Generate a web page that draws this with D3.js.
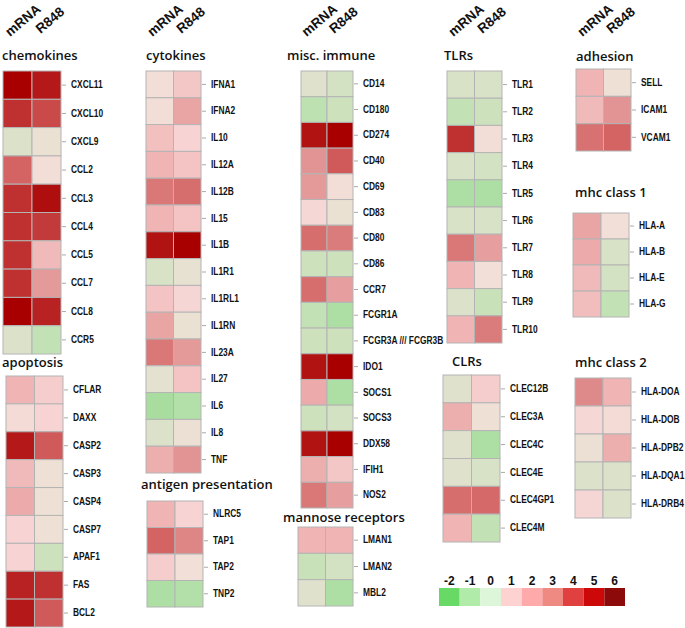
<!DOCTYPE html>
<html><head><meta charset="utf-8">
<script src="https://cdn.jsdelivr.net/npm/d3@7/dist/d3.min.js"></script>
<style>
body{margin:0;background:#fff;}
.gene{font-family:"Liberation Sans",Arial,sans-serif;font-weight:bold;font-size:10px;fill:#111;}
.title{font-family:"Open Sans",sans-serif;font-weight:600;font-size:13px;fill:#111;}
.hdr{font-family:"Liberation Sans",Arial,sans-serif;font-weight:bold;font-size:13.5px;fill:#111;}
.leg{font-family:"Liberation Sans",Arial,sans-serif;font-weight:bold;font-size:12px;fill:#111;}
</style></head>
<body>
<svg id="c" width="685" height="628"></svg>
<script>
const conditions = ["mRNA","R848"];

const chemokineGenes = ["CXCL11","CXCL10","CXCL9","CCL2","CCL3","CCL4","CCL5","CCL7","CCL8","CCR5"];
const chemokineMRNA  = [6, 5, -0.2, 4, 5, 5, 5, 5, 6, -0.2];
const chemokineR848  = [5.5, 4.5, 0.2, 0.6, 5.7, 4.8, 1.8, 2.8, 5.3, -0.7];

const apoptosisGenes = ["CFLAR","DAXX","CASP2","CASP3","CASP4","CASP7","APAF1","FAS","BCL2"];
const apoptosisMRNA  = [2, 0.7, 5.5, 1.8, 2.3, 1, 1, 5.3, 5.5];
const apoptosisR848  = [1.2, 1, 4.2, 0.4, 0.4, 0.4, -0.5, 5, 4.2];

const cytokineGenes = ["IFNA1","IFNA2","IL10","IL12A","IL12B","IL15","IL1B","IL1R1","IL1RL1","IL1RN","IL23A","IL27","IL6","IL8","TNF"];
const cytokineMRNA  = [0.6, 0.6, 1.6, 2, 3.6, 2, 5.6, -0.3, 1.5, 2.5, 3.6, 0, -1.2, -0.2, 2.2];
const cytokineR848  = [1.4, 2.5, 1, 1.5, 3.8, 1.5, 6, 0.1, 0.9, 0.2, 2.8, 1.5, -1.0, 0.3, 3];

const antigenGenes = ["NLRC5","TAP1","TAP2","TNP2"];
const antigenMRNA  = [2, 4, 1.2, -1.1];
const antigenR848  = [1, 3.3, 0.5, -1.0];

const miscGenes = ["CD14","CD180","CD274","CD40","CD69","CD83","CD80","CD86","CCR7","FCGR1A","FCGR3A /// FCGR3B","IDO1","SOCS1","SOCS3","DDX58","IFIH1","NOS2"];
const miscMRNA  = [-0.1, -0.8, 5.6, 3, 2.8, 0.8, 3.8, -0.5, 3.8, -0.7, -0.5, 5.6, 2.3, -0.5, 5.6, 2.2, 3.6];
const miscR848  = [-0.4, -0.5, 6, 4.2, 0.6, 0.2, 3.5, -0.5, 2.7, -1.1, -0.5, 6, -1.1, -0.4, 6, 1.4, 2.7];

const mannoseGenes = ["LMAN1","LMAN2","MBL2"];
const mannoseMRNA  = [2, -0.6, -0.1];
const mannoseR848  = [2, -0.4, -1.1];

const tlrGenes = ["TLR1","TLR2","TLR3","TLR4","TLR5","TLR6","TLR7","TLR8","TLR9","TLR10"];
const tlrMRNA  = [-0.3, -0.7, 5, -0.3, -1.1, -0.3, 3.6, 2, -0.2, 2];
const tlrR848  = [-0.3, -0.5, 0.6, -0.4, -1.1, -0.3, 2.7, 0.5, -0.6, 3.5];

const clrGenes = ["CLEC12B","CLEC3A","CLEC4C","CLEC4E","CLEC4GP1","CLEC4M"];
const clrMRNA  = [-0.1, 2.2, -0.1, -0.1, 3.8, 2];
const clrR848  = [1.2, 0.4, -1.1, -0.3, 3.9, -0.7];

const adhesionGenes = ["SELL","ICAM1","VCAM1"];
const adhesionMRNA  = [2, 1.8, 3.7];
const adhesionR848  = [0.4, 3, 4];

const mhc1Genes = ["HLA-A","HLA-B","HLA-E","HLA-G"];
const mhc1MRNA  = [2.5, 2.3, 1.8, 1.7];
const mhc1R848  = [0.5, -0.3, -0.4, -0.7];

const mhc2Genes = ["HLA-DOA","HLA-DOB","HLA-DPB2","HLA-DQA1","HLA-DRB4"];
const mhc2MRNA  = [3.2, 0.8, 0.3, -0.2, 0.9];
const mhc2R848  = [2, 0.7, 2.2, -0.2, -0.2];

const legendValues = [-2,-1,0,1,2,3,4,5,6];
const legendColors = ["#68d964","#b0eba9","#ddf6d9","#ffd2d2","#ffaaaa","#ef8a82","#e04040","#cc0808","#8c0a0a"];

// continuous scale used in cells
const cellColor = d3.scaleLinear()
  .domain([-1.5,-1,-0.3,0,0.5,1,2,3,4,5,6])
  .range(["#9bd993","#b2e0a8","#d8e2c6","#e4e1d0","#f2e0d8","#f7d3d3","#f0b4b4","#e29494","#d46464","#bf3030","#a80000"])
  .clamp(true);

const panels = [
  {title:"chemokines", genes:chemokineGenes, m:chemokineMRNA, r:chemokineR848, x:[3,61], y:[71,354], tx:2, ty:60, hdr:true},
  {title:"apoptosis", genes:apoptosisGenes, m:apoptosisMRNA, r:apoptosisR848, x:[6,63], y:[376,627], tx:2, ty:367},
  {title:"cytokines", genes:cytokineGenes, m:cytokineMRNA, r:cytokineR848, x:[146,201], y:[71,473], tx:146, ty:60, hdr:true},
  {title:"antigen presentation", genes:antigenGenes, m:antigenMRNA, r:antigenR848, x:[147,203], y:[501,607], tx:141, ty:489},
  {title:"misc. immune", genes:miscGenes, m:miscMRNA, r:miscR848, x:[301,353], y:[71,508], tx:287, ty:60, hdr:true},
  {title:"mannose receptors", genes:mannoseGenes, m:mannoseMRNA, r:mannoseR848, x:[298,353], y:[527,606], tx:283, ty:522},
  {title:"TLRs", genes:tlrGenes, m:tlrMRNA, r:tlrR848, x:[447,502], y:[71,343], tx:444, ty:60, hdr:true},
  {title:"CLRs", genes:clrGenes, m:clrMRNA, r:clrR848, x:[443,500], y:[375,542], tx:452, ty:366},
  {title:"adhesion", genes:adhesionGenes, m:adhesionMRNA, r:adhesionR848, x:[576,631], y:[69,151], tx:576, ty:61, hdr:true},
  {title:"mhc class 1", genes:mhc1Genes, m:mhc1MRNA, r:mhc1R848, x:[573,629], y:[213,317], tx:575, ty:197},
  {title:"mhc class 2", genes:mhc2Genes, m:mhc2MRNA, r:mhc2R848, x:[575,631], y:[378,518], tx:575, ty:367}
];

const svg = d3.select("#c");

panels.forEach(p => {
  const g = svg.append("g");
  const xs = d3.scaleBand().domain(conditions).range(p.x);
  const ys = d3.scaleBand().domain(p.genes).range(p.y);
  const cells = [];
  p.genes.forEach((gn,i) => {
    cells.push({gene:gn, cond:"mRNA", v:p.m[i]});
    cells.push({gene:gn, cond:"R848", v:p.r[i]});
  });
  g.selectAll("rect.cell").data(cells).join("rect")
    .attr("x", d => xs(d.cond)).attr("y", d => ys(d.gene))
    .attr("width", xs.bandwidth()).attr("height", ys.bandwidth())
    .attr("fill", d => cellColor(d.v))
    .attr("stroke", "#b4b4b4").attr("stroke-width", 1);
  // axis on right
  const ax = d3.axisRight(ys).tickSize(4).tickPadding(5);
  const axg = g.append("g").attr("transform", `translate(${p.x[1]+1},0)`).call(ax);
  axg.select(".domain").remove();
  axg.selectAll(".tick line").attr("stroke","#aaa");
  axg.selectAll(".tick text").attr("class","gene").attr("fill",null)
    .attr("x", null)
    .attr("transform","translate(9,0) scale(0.84,1)");
  axg.attr("font-family",null).attr("font-size",null);
  g.append("text").attr("class","title").attr("x",p.tx).attr("y",p.ty).text(p.title);
  if (p.hdr) {
    const offs = {mRNA:[-7.5,37], R848:[-6,34]};
    conditions.forEach(c => {
      const cx = xs(c) + xs.bandwidth()/2 + offs[c][0];
      const cy = offs[c][1];
      g.append("text").attr("class","hdr")
        .attr("transform",`translate(${cx},${cy}) rotate(-40)`)
        .text(c);
    });
  }
});

// legend
const lx = d3.scaleBand().domain(legendValues).range([439,625]);
const lg = svg.append("g");
lg.selectAll("rect").data(legendValues).join("rect")
  .attr("x", d => lx(d)).attr("y", 588).attr("width", lx.bandwidth()).attr("height", 18)
  .attr("fill", (d,i) => legendColors[i]);
lg.selectAll("text").data(legendValues).join("text")
  .attr("class","leg").attr("x", d => lx(d)+lx.bandwidth()/2).attr("y", 585)
  .attr("text-anchor","middle").text(d => d);
</script>
</body></html>
